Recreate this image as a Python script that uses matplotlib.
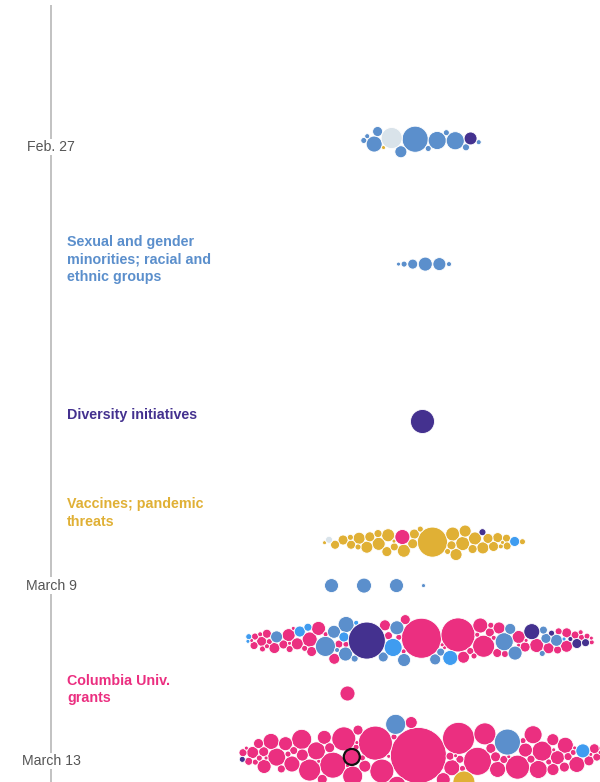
import numpy as np
import matplotlib
matplotlib.use("Agg")
import matplotlib.pyplot as plt

# ---------------- data (grant amounts in $ millions; bubble area ~ amount) -------------
# Row positions on the timeline, in days after Feb. 27
row_days = [-0.15, 2.67, 6.25, 9.0, 10.0, 11.25, 12.45, 13.85]

# Row 1 (Feb. 27)
r1_sexual = [10.6, 5.1, 5.1, 4.0, 2.25, 1.56, 0.77, 0.56, 0.56, 0.56, 0.39, 0.39]
r1_diversity = [2.6]
r1_vaccine = [0.25]
r1_gray = [6.9]

# Row 2
r2_sexual = [3.06, 2.64, 1.56, 0.56, 0.39, 0.25]

# Row 3
r3_diversity = [9.0]

# Row 4
r4_vaccine = [14.1, 3.06, 3.06, 2.64, 2.64, 2.64, 2.64, 2.25, 2.25, 2.25, 2.25, 2.25,
              1.56, 1.56, 1.56, 1.56, 1.56, 1.56, 1.56, 1.56, 1.27, 1.27, 1.27, 1.27,
              1.0, 1.0, 1.0, 1.0, 0.56, 0.56, 0.56, 0.56, 0.56, 0.39, 0.25, 0.25, 0.25]
r4_columbia = [3.52]
r4_gray = [0.77]
r4_diversity = [0.77]
r4_other = [1.56]

# Row 5 (March 9)
r5_sexual = [3.5, 3.06, 3.06, 0.25]

# Row 6
r6_columbia = ([25.0, 18.1, 7.56, 3.52, 3.52, 3.06, 3.06, 2.64, 2.64, 2.25, 2.25, 2.25, 2.25]
               + [1.89] * 4 + [1.56] * 5 + [1.27] * 4 + [1.0] * 5 + [0.77] * 5
               + [0.56] * 9 + [0.39] * 8 + [0.25] * 8)
r6_sexual = [6.25, 5.06, 4.0, 3.06, 3.06, 3.06, 2.64, 2.64, 2.25, 2.25,
             1.89, 1.89, 1.56, 1.56, 1.0, 1.0, 0.77, 0.56, 0.39]
r6_other = [5.06, 3.52, 1.89, 1.56, 1.0, 0.56, 0.39, 0.25, 0.25]
r6_diversity = [21.4, 4.0, 1.56, 1.0, 0.56, 0.39]

# Row 7
r7_columbia = [3.52]

# Row 8 (March 13)
r8_columbia = ([49.0, 18.1, 16.0, 12.25, 10.56, 9.0, 9.0, 9.0, 7.56, 7.56, 6.25, 6.25, 6.25]
               + [5.06] * 5 + [4.0] * 6 + [3.06] * 6 + [2.25] * 6 + [1.56] * 10
               + [1.0] * 10 + [0.56] * 11 + [0.25] * 12)
r8_highlight = [4.0]
r8_sexual = [10.56, 6.25]
r8_vaccine = [7.56]
r8_other = [3.06]
r8_diversity = [0.56]

date_labels = ["Feb. 27", "March 9", "March 13"]
date_days = [0, 10, 14]

cat_labels = ["Sexual and gender\nminorities; racial and\nethnic groups",
              "Diversity initiatives",
              "Vaccines; pandemic\nthreats",
              "Columbia Univ.\ngrants"]
cat_label_days = [2.56, 6.11, 8.34, 12.37]
cat_label_keys = ["S", "D", "V", "C"]

# ---------------- style / layout ----------------
COLORS = {"S": "#5b8fcc", "D": "#44318f", "V": "#e0b035", "C": "#eb2f80",
          "B": "#3f9cf0", "G": "#d9e3ea", "H": "#eb2f80"}
R_PER_SQRT = 4.0          # px radius per sqrt($M)
CENTER_X = 422
ROW_SHIFT = [-1, 2, 0, 2, -47, -2, -75, 0]
ASPECT = [4.8, 6.0, 6.0, 8.0, 6.0, 8.8, 6.0, 6.3]
PAD = [0.0, 0.6, 0.3, -0.2, 18.0, -0.3, 0.3, -0.3]
USE_SIM = [True, False, False, True, False, True, False, True]

rows = [
    {"S": r1_sexual, "D": r1_diversity, "V": r1_vaccine, "G": r1_gray},
    {"S": r2_sexual},
    {"D": r3_diversity},
    {"V": r4_vaccine, "C": r4_columbia, "G": r4_gray, "D": r4_diversity, "B": r4_other},
    {"S": r5_sexual},
    {"C": r6_columbia, "S": r6_sexual, "B": r6_other, "D": r6_diversity},
    {"C": r7_columbia},
    {"C": r8_columbia, "H": r8_highlight, "S": r8_sexual, "V": r8_vaccine,
     "B": r8_other, "D": r8_diversity},
]


def pack(radii, aspect, pad):
    """Greedy front packing: largest first, each at the free spot nearest the centre."""
    n = len(radii)
    xs = np.zeros(n)
    ys = np.zeros(n)
    order = np.argsort(-radii, kind="stable")
    placed = []
    ang = np.linspace(0, 2 * np.pi, 48, endpoint=False)
    for idx in order:
        r = radii[idx]
        if not placed:
            placed.append(idx)
            continue
        P = np.array(placed)
        cx, cy, cr = xs[P], ys[P], radii[P]
        dist = cr + r + pad
        candx = (cx[:, None] + dist[:, None] * np.cos(ang)).ravel()
        candy = (cy[:, None] + dist[:, None] * np.sin(ang)).ravel()
        ddx = candx[:, None] - cx[None, :]
        ddy = candy[:, None] - cy[None, :]
        valid = np.all(ddx ** 2 + ddy ** 2 >= (dist[None, :] - 1e-6) ** 2, axis=1)
        cost = (candx / aspect) ** 2 + candy ** 2
        cost[~valid] = np.inf
        k = np.argmin(cost)
        xs[idx], ys[idx] = candx[k], candy[k]
        placed.append(idx)
    return xs, ys


def simulate(radii, aspect, pad, ticks=320):
    """d3-style force layout: weak x pull, strong y pull, collision."""
    n = len(radii)
    order = np.argsort(-radii, kind="stable")
    x = np.zeros(n)
    y = np.zeros(n)
    ga = np.pi * (3 - np.sqrt(5))
    sq = radii[order] ** 2
    cum = np.cumsum(sq) - sq[0]
    sa = np.sqrt(aspect)
    for k, idx in enumerate(order):
        rad = np.sqrt(cum[k] / 0.8)
        x[idx] = rad * np.cos(k * ga) * sa
        y[idx] = rad * np.sin(k * ga) / sa
    vx = np.zeros(n)
    vy = np.zeros(n)
    ky = 0.3
    kx = ky / aspect ** 2
    alpha = 1.0
    decay = 1 - 0.001 ** (1 / 300)
    r2 = radii ** 2
    Wt = r2[None, :] / (r2[:, None] + r2[None, :])
    R = radii[:, None] + radii[None, :] + pad
    eye = np.eye(n, dtype=bool)
    for _ in range(ticks):
        alpha += -alpha * decay
        vx += -x * kx * alpha
        vy += -y * ky * alpha
        for _it in range(3):
            px = x + vx
            py = y + vy
            dx = px[:, None] - px[None, :]
            dy = py[:, None] - py[None, :]
            d = np.sqrt(dx ** 2 + dy ** 2)
            d[eye] = 1.0
            ov = (d < R) & ~eye
            l = np.where(ov, (R - d) / d * 0.6, 0.0)
            vx += np.sum(dx * l * Wt, axis=1)
            vy += np.sum(dy * l * Wt, axis=1)
        vx *= 0.6
        vy *= 0.6
        x += vx
        y += vy
    return x, y


# ---------------- figure ----------------
W_PX, H_PX = 600, 782
fig = plt.figure(figsize=(W_PX / 100, H_PX / 100), dpi=100)
ax = fig.add_axes([0, 0, 1, 1])
DAY_PX = 43.86
y_top = -147 / DAY_PX
y_bot = (H_PX - 147) / DAY_PX
ax.set_xlim(0, W_PX)
ax.set_ylim(y_bot, y_top)
ax.axis("off")

# timeline
ax.plot([51, 51], [y_top + 5 / DAY_PX, y_bot], color="#bdbdbd", lw=1.3, zorder=1,
        solid_capstyle="butt")

for lab, d in zip(date_labels, date_days):
    ax.text(51, d, lab, ha="center", va="center", fontsize=10.2, color="#555555",
            family=["Liberation Sans", "DejaVu Sans"],
            bbox=dict(fc="white", ec="none", pad=0.8), zorder=2)

for lab, d, key in zip(cat_labels, cat_label_days, cat_label_keys):
    ax.text(67, d, lab, ha="left", va="center", fontsize=10.3, color=COLORS[key],
            fontweight="bold", linespacing=1.33,
            family=["Liberation Sans Narrow", "Liberation Sans", "DejaVu Sans"])

# bubbles
for ri, row in enumerate(rows):
    cats, amts = [], []
    for key, vals in row.items():
        for v in vals:
            cats.append(key)
            amts.append(v)
    amts = np.array(amts, dtype=float)
    radii = R_PER_SQRT * np.sqrt(amts)
    if USE_SIM[ri]:
        xs, ys = simulate(radii, ASPECT[ri], PAD[ri])
    else:
        xs, ys = pack(radii, ASPECT[ri], PAD[ri])
    xs = xs - ((xs - radii).min() + (xs + radii).max()) / 2
    if USE_SIM[ri]:
        ys = ys - np.average(ys, weights=radii ** 2)
    px = CENTER_X + ROW_SHIFT[ri] + xs
    py = row_days[ri] + ys / DAY_PX
    sizes = (2 * radii * 72 / 100) ** 2
    cols = [COLORS[c] for c in cats]
    edge = ["#111111" if c == "H" else "white" for c in cats]
    lws = [1.6 if c == "H" else 0.6 for c in cats]
    ax.scatter(px, py, s=sizes, c=cols, edgecolors=edge, linewidths=lws, zorder=3)

fig.savefig("out.png", dpi=100)
